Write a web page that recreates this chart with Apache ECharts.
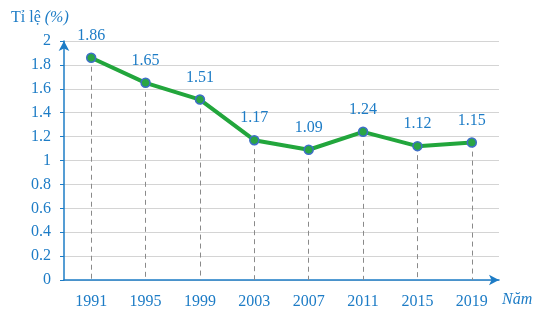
<!DOCTYPE html>
<html><head><meta charset="utf-8">
<script src="https://cdn.jsdelivr.net/npm/echarts@6/dist/echarts.min.js"></script>
<style>html,body{margin:0;padding:0;background:#fff}#c{width:543px;height:310px}</style>
</head><body><div id="c"></div>
<script>
const years = ['1991','1995','1999','2003','2007','2011','2015','2019'];
const rates = [1.86, 1.65, 1.51, 1.17, 1.09, 1.24, 1.12, 1.15];
const yTicks = [0, 0.2, 0.4, 0.6, 0.8, 1, 1.2, 1.4, 1.6, 1.8, 2];

const BLUE = '#1d7cc6';
const FONT = '"Liberation Serif", "DejaVu Serif", serif';
const chart = echarts.init(document.getElementById('c'));
chart.setOption({
  animation: false,
  grid: { left: 64, top: 41, width: 435, height: 240 },
  xAxis: {
    type: 'category', data: years, boundaryGap: true,
    axisLine: { lineStyle: { color: BLUE, width: 1.5 }, symbol: ['none', 'arrow'], symbolSize: [8, 10] },
    axisTick: { alignWithLabel: true, length: 4, lineStyle: { color: BLUE } },
    axisLabel: { color: BLUE, fontFamily: FONT, fontSize: 16, margin: 14 },
    splitLine: { show: false }
  },
  yAxis: {
    type: 'value', min: yTicks[0], max: yTicks[yTicks.length - 1], interval: 0.2,
    axisLine: { show: true, lineStyle: { color: BLUE, width: 1.5 }, symbol: ['none', 'arrow'], symbolSize: [8, 10] },
    axisTick: { show: true, length: 4, lineStyle: { color: BLUE } },
    axisLabel: { color: BLUE, fontFamily: FONT, fontSize: 16, margin: 13,
      formatter: v => String(Math.round(v * 10) / 10) },
    splitLine: { lineStyle: { color: '#d4d4d4', width: 1 } }
  },
  graphic: [
    { type: 'text', left: 11, top: 10, style: {
      text: '{a|Tỉ lệ }{b|(%)}',
      rich: {
        a: { fontFamily: FONT, fontSize: 16, fill: BLUE },
        b: { fontFamily: FONT, fontSize: 16, fill: BLUE, fontStyle: 'italic' }
      } } },
    { type: 'text', left: 502, top: 292, style: {
      text: 'Năm', fontFamily: FONT, fontSize: 16, fontStyle: 'italic', fill: BLUE } }
  ],
  series: [{
    type: 'line', data: rates,
    lineStyle: { color: '#22a63c', width: 4 },
    symbol: 'circle', symbolSize: 9,
    itemStyle: { color: '#2aa545', borderColor: '#3d6fc7', borderWidth: 1.5 },
    label: { show: true, position: 'top', distance: 9, color: BLUE, fontFamily: FONT, fontSize: 16 },
    z: 5,
    markLine: {
      silent: true, symbol: 'none', label: { show: false },
      lineStyle: { color: '#8a8a8a', type: [5, 4], width: 1 },
      data: rates.map((v, i) => [{ coord: [i, v] }, { coord: [i, 0] }])
    }
  }]
});
</script></body></html>
